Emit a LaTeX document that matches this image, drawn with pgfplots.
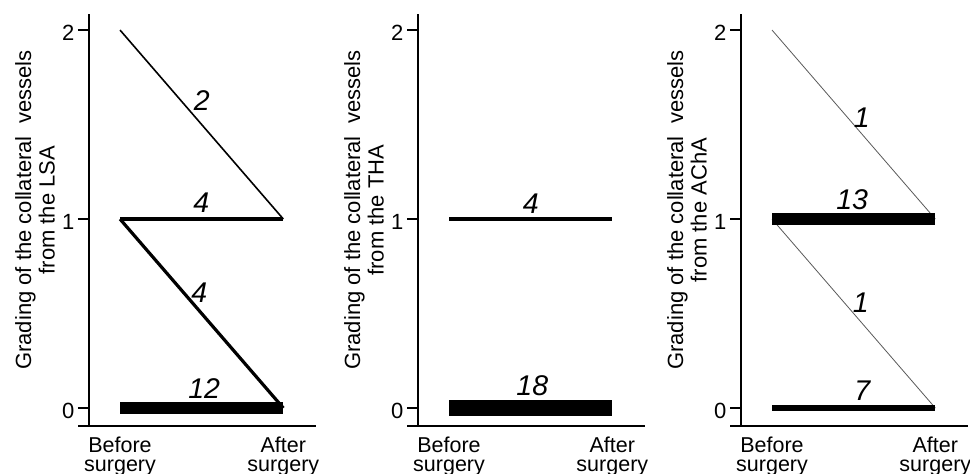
\documentclass[border=0pt]{standalone}
\usepackage{fontspec}
\setmainfont{Liberation Sans}
\usepackage{pgfplots}
\pgfplotsset{compat=1.18}
\begin{document}
\begin{tikzpicture}
\tikzset{cnt/.style={font=\fontsize{28.5}{30}\selectfont\itshape, anchor=base, inner sep=0pt}}
\pgfplotsset{
  panel/.style={
    scale only axis, width=227pt, height=412pt,
    xmin=-0.19, xmax=1.20, ymin=-0.095, ymax=2.085,
    axis x line=bottom, axis y line=left,
    axis line style={line width=2.6pt, -},
    xtick={0,1}, xticklabels={{Before\\surgery},{After\\surgery}},
    xtick style={draw=none},
    xticklabel style={align=center, font=\fontsize{21.5}{18.5}\selectfont, inner sep=0pt},
    ytick={0,1,2},
    ytick style={line width=2.6pt, black},
    tick align=outside,
    major tick length=11pt,
    yticklabel style={font=\fontsize{22}{24}\selectfont, yshift=-3pt},
    /pgf/number format/assume math mode=true,
    ylabel style={at={(axis description cs:-0.238,0.524)}, anchor=center, align=center, font=\fontsize{22}{23.5}\selectfont},
    clip=false,
    anchor=south west,
  },
}
% Panel 1: LSA
\begin{axis}[panel, at={(89pt,48pt)}, ylabel={Grading of the collateral\ \ vessels\\from the LSA}]
  \draw[line width=2.6pt] ([xshift=-11pt]axis cs:-0.19,-0.095) -- (axis cs:-0.19,-0.095);
  \addplot[black, line width=1.6pt] coordinates {(0,2) (1,1)};
  \addplot[black, line width=3.2pt] coordinates {(0,1) (1,1)};
  \addplot[black, line width=11.5pt] coordinates {(0,0) (1,0)};
  \addplot[black, line width=3.2pt] coordinates {(0,1) (1,0)};
  \node[cnt] at (axis cs:0.50,1.573) {2};
  \node[cnt] at (axis cs:0.497,1.033) {4};
  \node[cnt] at (axis cs:0.485,0.556) {4};
  \node[cnt] at (axis cs:0.515,0.053) {12};
\end{axis}
% Panel 2: THA
\begin{axis}[panel, at={(418pt,48pt)}, ylabel={Grading of the collateral\ \ vessels\\from the THA}]
  \draw[line width=2.6pt] ([xshift=-11pt]axis cs:-0.19,-0.095) -- (axis cs:-0.19,-0.095);
  \addplot[black, line width=3.2pt] coordinates {(0,1) (1,1)};
  \addplot[black, line width=16.5pt] coordinates {(0,0) (1,0)};
  \node[cnt] at (axis cs:0.50,1.03) {4};
  \node[cnt] at (axis cs:0.51,0.069) {18};
\end{axis}
% Panel 3: AChA
\begin{axis}[panel, at={(741pt,48pt)}, ylabel={Grading of the collateral\ \ vessels\\from the AChA}]
  \draw[line width=2.6pt] ([xshift=-11pt]axis cs:-0.19,-0.095) -- (axis cs:-0.19,-0.095);
  \addplot[black!65, line width=0.8pt] coordinates {(0,2) (1,1)};
  \addplot[black!65, line width=0.8pt] coordinates {(0,1) (1,0)};
  \addplot[black, line width=11.5pt] coordinates {(0,1) (1,1)};
  \addplot[black, line width=6.5pt] coordinates {(0,0) (1,0)};
  \node[cnt] at (axis cs:0.549,1.487) {1};
  \node[cnt] at (axis cs:0.491,1.051) {13};
  \node[cnt] at (axis cs:0.543,0.503) {1};
  \node[cnt] at (axis cs:0.552,0.042) {7};
\end{axis}
\pgfresetboundingbox
\path (0,0) rectangle (970pt,474pt);
\end{tikzpicture}
\end{document}
